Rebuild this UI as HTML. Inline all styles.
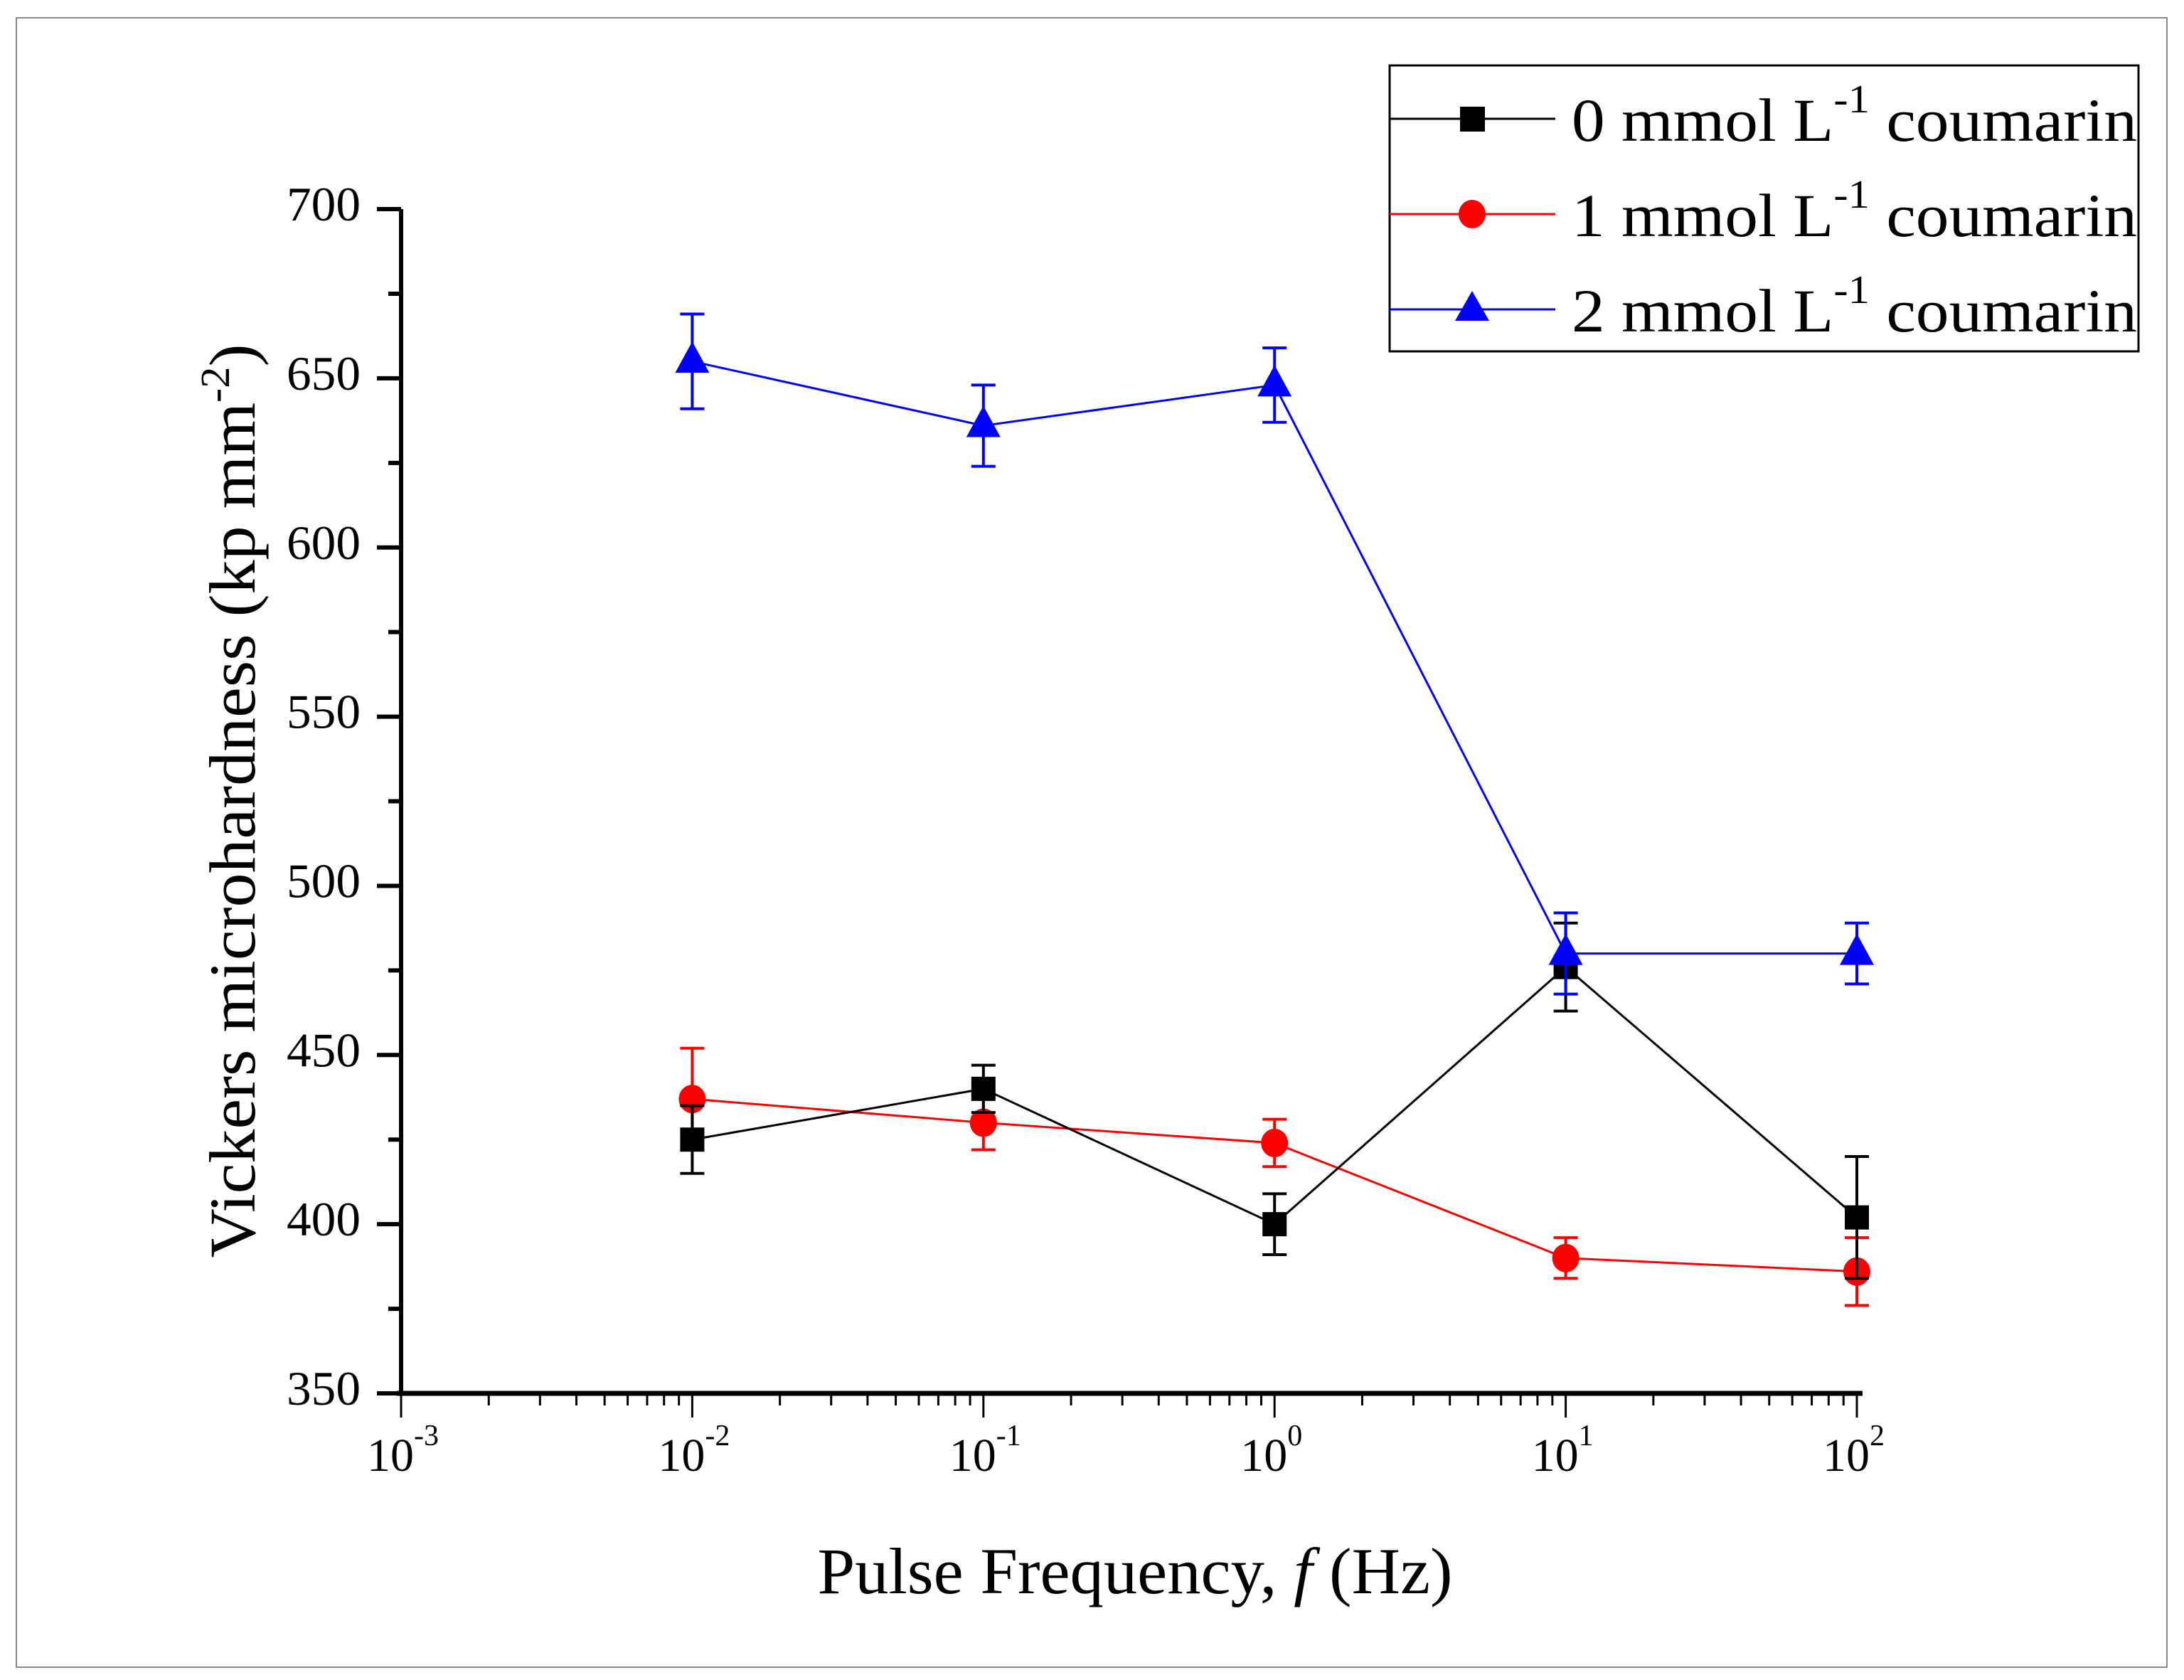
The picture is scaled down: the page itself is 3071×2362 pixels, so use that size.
<!DOCTYPE html>
<html><head><meta charset="utf-8"><style>
html,body{margin:0;padding:0;background:#fff;}
svg{display:block;font-family:"Liberation Serif",serif;}
</style></head><body>
<svg id="chart" width="3071" height="2362" viewBox="0 0 3071 2362" xmlns="http://www.w3.org/2000/svg">
<rect x="23" y="25" width="3024" height="2319" fill="#fff" stroke="#888" stroke-width="2"/>
<g id="axes"></g>
<g id="series"></g>
<text x="1596" y="2240" font-size="92" text-anchor="middle" textLength="893" lengthAdjust="spacingAndGlyphs">Pulse Frequency, <tspan font-style="italic">f</tspan> (Hz)</text>
<text transform="translate(358,1126) rotate(-90)" font-size="92" text-anchor="middle" textLength="1285" lengthAdjust="spacingAndGlyphs">Vickers microhardness (kp mm<tspan font-size="58" dy="-36">-2</tspan><tspan dy="36">)</tspan></text>
<g>
<rect x="1954" y="92" width="1053" height="402" fill="#fff" stroke="#000" stroke-width="3"/>
<g>
<line x1="1954" y1="167" x2="2187" y2="167" stroke="#000" stroke-width="3"/>
<rect x="2053" y="150" width="35" height="35" fill="#000"/>
<text x="2210" y="198" font-size="86" textLength="795" lengthAdjust="spacingAndGlyphs">0 mmol L<tspan font-size="56" dy="-40">-1</tspan><tspan dy="40"> coumarin</tspan></text>
</g>
<g>
<line x1="1954" y1="301" x2="2187" y2="301" stroke="#f00" stroke-width="3"/>
<ellipse cx="2070" cy="301" rx="19" ry="20" fill="#f00"/>
<text x="2210" y="332" font-size="86" textLength="795" lengthAdjust="spacingAndGlyphs">1 mmol L<tspan font-size="56" dy="-40">-1</tspan><tspan dy="40"> coumarin</tspan></text>
</g>
<g>
<line x1="1954" y1="435" x2="2187" y2="435" stroke="#00f" stroke-width="3"/>
<polygon points="2070,409 2094,451 2046,451" fill="#00f"/>
<text x="2210" y="466" font-size="86" textLength="795" lengthAdjust="spacingAndGlyphs">2 mmol L<tspan font-size="56" dy="-40">-1</tspan><tspan dy="40"> coumarin</tspan></text>
</g>
</g>
</svg>
<script>
const freqs = [0.01, 0.1, 1, 10, 100];
const black = [425, 440, 400, 476, 402];
const blackErr = [10, 7, 9, 13, 18];
const red = [437, 430, 424, 390, 386];
const redErr = [15, 8, 7, 6, 10];
const blue = [655, 636, 648, 480, 480];
const blueErr = [14, 12, 11, 12, 9];
const yTicks = [350, 400, 450, 500, 550, 600, 650, 700];
const xExps = [-3, -2, -1, 0, 1, 2];

const NS = "http://www.w3.org/2000/svg";
const X0 = 564, DEC = 409.4, Y0 = 1959, YS = 4.757;
function xs(f){ return X0 + (Math.log10(f) + 3) * DEC; }
function ys(v){ return Y0 - (v - 350) * YS; }
function mk(tag, attrs, parent){ const e = document.createElementNS(NS, tag); for (const k in attrs) e.setAttribute(k, attrs[k]); parent.appendChild(e); return e; }

const axes = document.getElementById('axes');
const yAxis = mk('line', {x1:X0, y1:ys(700), x2:X0, y2:Y0, stroke:'#000', 'stroke-width':6}, axes);


const xAxis = mk('line', {x1:X0 - 6, y1:Y0, x2:xs(100) + 8, y2:Y0, stroke:'#000', 'stroke-width':7}, axes);


yTicks.forEach((v, i) => {
  const t = mk('line', {x1:X0 - 34, y1:ys(v), x2:X0, y2:ys(v), stroke:'#000', 'stroke-width':6}, axes);
  
  
  if (i < yTicks.length - 1) {
    const m = mk('line', {x1:X0 - 18, y1:ys(v + 25), x2:X0, y2:ys(v + 25), stroke:'#000', 'stroke-width':6}, axes);
    
    
  }
  const l = mk('text', {x:507, y:ys(v) + 16, 'font-size':68, 'text-anchor':'end', textLength:104, lengthAdjust:'spacingAndGlyphs'}, axes);
  l.textContent = v;
  
  
});
xExps.forEach((e, i) => {
  const x = xs(Math.pow(10, e));
  const t = mk('line', {x1:x, y1:Y0, x2:x, y2:Y0 + 34, stroke:'#000', 'stroke-width':3}, axes);
  
  
  if (i < xExps.length - 1) {
    for (let k = 2; k <= 9; k++) {
      const mx = xs(k * Math.pow(10, e));
      const m = mk('line', {x1:mx, y1:Y0, x2:mx, y2:Y0 + 17, stroke:'#000', 'stroke-width':3}, axes);
      
      
    }
  }
  const l = mk('text', {x:x - 48, y:2068, 'font-size':66}, axes);
  
  
  l.appendChild(document.createTextNode('10'));
  const s = mk('tspan', {'font-size':42, dy:-36}, l);
  s.textContent = e;
});

const seriesG = document.getElementById('series');
function drawSeries(vals, errs, color, shape, name) {
  const g = mk('g', {}, seriesG);
  
  
  const pts = freqs.map((f, i) => xs(f) + ',' + ys(vals[i])).join(' ');
  const pl = mk('polyline', {points:pts, fill:'none', stroke:color, 'stroke-width':3}, g);
  
  
  freqs.forEach((f, i) => {
    const x = xs(f), y = ys(vals[i]), yt = ys(vals[i] + errs[i]), yb = ys(vals[i] - errs[i]);
    const eb = mk('path', {d:`M${x},${yt}V${yb}M${x-17},${yt}H${x+17}M${x-17},${yb}H${x+17}`, stroke:color, 'stroke-width':4, fill:'none'}, g);
    
    
    let m;
    if (shape === 'square') m = mk('rect', {x:x-17, y:y-17, width:34, height:34, fill:color}, g);
    else if (shape === 'circle') m = mk('ellipse', {cx:x, cy:y, rx:19, ry:20, fill:color}, g);
    else m = mk('polygon', {points:`${x},${y-28} ${x+24},${y+16} ${x-24},${y+16}`, fill:color}, g);
    
    
  });
}
drawSeries(red, redErr, '#f00', 'circle', 'series-1mmol');
drawSeries(black, blackErr, '#000', 'square', 'series-0mmol');
drawSeries(blue, blueErr, '#00f', 'triangle', 'series-2mmol');
</script>
</body></html>
